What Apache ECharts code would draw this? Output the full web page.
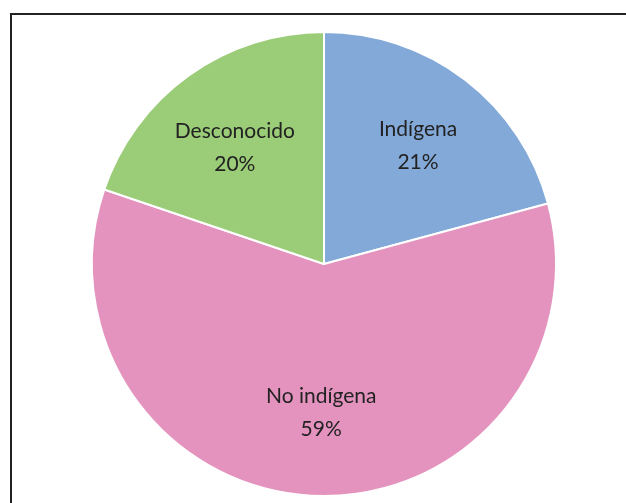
<!DOCTYPE html>
<html>
<head>
<meta charset="utf-8">
<script src="https://cdn.jsdelivr.net/npm/echarts@6/dist/echarts.min.js"></script>
<style>html,body{margin:0;padding:0;background:#fff;}#c{width:626px;height:503px;}</style>
</head>
<body>
<div id="c"></div>
<script>
var categories = ['Indígena', 'No indígena', 'Desconocido'];
var values = [20.8, 59.4, 19.8];
var colors = ['#83A9D8', '#E493BE', '#9BCC77'];

var labelNudge = [[1, 1], [2, -6], [0, 6]];

var chart = echarts.init(document.getElementById('c'));
var data = categories.map(function (n, i) {
  return { name: n, value: values[i], itemStyle: { color: colors[i] } };
});
var labelData = categories.map(function (n, i) {
  return { name: n, value: values[i], label: { offset: labelNudge[i] } };
});
chart.setOption({
  animation: false,
  graphic: [{
    type: 'rect',
    shape: { x: 11, y: 14, width: 640, height: 520 },
    style: { fill: 'none', stroke: '#222', lineWidth: 2 },
    z: 0
  }],
  series: [{
    type: 'pie',
    center: [324, 264],
    radius: [0, 232],
    startAngle: 90,
    clockwise: true,
    label: { show: false },
    labelLine: { show: false },
    itemStyle: { borderColor: '#fff', borderWidth: 2 },
    emphasis: { disabled: true },
    data: data
  }, {
    type: 'pie',
    center: [324, 266],
    radius: [68, 232],
    startAngle: 90,
    clockwise: true,
    silent: true,
    itemStyle: { color: 'rgba(0,0,0,0)', borderWidth: 0 },
    label: {
      show: true,
      position: 'inside',
      formatter: function (p) { return p.name + '\n' + Math.round(p.value) + '%'; },
      fontFamily: 'Lato',
      fontSize: 21,
      lineHeight: 33,
      color: '#222'
    },
    labelLine: { show: false },
    emphasis: { disabled: true },
    data: labelData
  }]
});
</script>
</body>
</html>
